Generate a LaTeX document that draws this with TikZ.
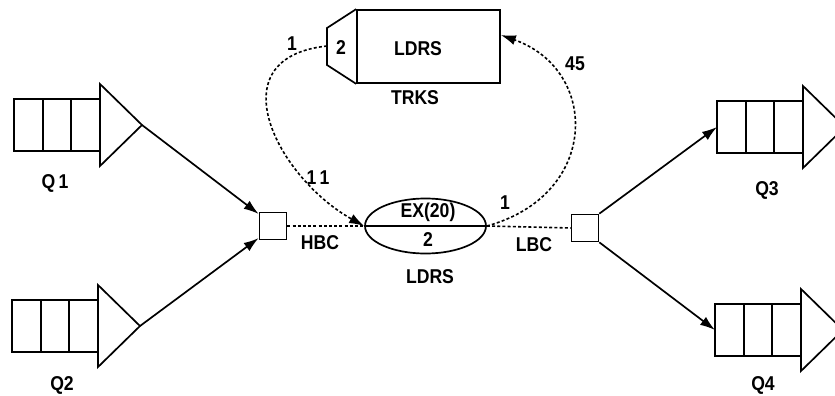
\documentclass[tikz,border=0pt]{standalone}
\usepackage{fontspec}
\setmainfont[FakeStretch=0.88]{Liberation Sans}
\usetikzlibrary{arrows.meta,shapes.geometric,calc}
\tikzset{
  solidline/.style={line width=1.7pt},
  dashline/.style={line width=1.6pt, dash pattern=on 3pt off 2.2pt},
  arr/.style={-{Latex[length=15pt,width=10pt]}},
  lbl/.style={font=\fontsize{20}{22}\selectfont\bfseries, inner sep=0pt},
  sq/.style={draw, solidline, rectangle, minimum width=27pt, minimum height=27pt, inner sep=0pt},
  queue/.pic={
    \draw[solidline] (0,-26) rectangle (86,26);
    \draw[solidline] (29,-26) -- (29,26) (57,-26) -- (57,26);
    \draw[solidline] (86,-41) -- (128,0) -- (86,41) -- cycle;
    \coordinate (-in) at (0,0);
    \coordinate (-apex) at (128,0);
  }
}
\begin{document}
\begin{tikzpicture}[x=1pt,y=-1pt]
\clip (0,0) rectangle (835,396);
\fill[white] (0,0) rectangle (835,396);

% queues
\pic (q1) at (14,125) {queue};
\pic (q2) at (12,326) {queue};
\pic (q3) at (717,127) {queue};
\pic (q4) at (715,330) {queue};
\node[lbl] (q1l) at (55,183) {Q\,1};
\node[lbl] (q2l) at (62,385) {Q2};
\node[lbl] (q3l) at (767,190) {Q3};
\node[lbl] (q4l) at (763,385) {Q4};

% branch points
\node[sq] (hbc) at (273,226) {};
\node[sq] (lbc) at (585,228) {};
\node[lbl] (hbcl) at (320,243) {HBC};
\node[lbl] (lbcl) at (534,245) {LBC};

% ellipse server
\node[draw, solidline, ellipse, minimum width=121pt, minimum height=55pt, inner sep=0pt] (ex) at (425.5,226) {};
\draw[solidline] (ex.west) -- (ex.east);
\node[lbl] (exl) at (428,212) {EX(20)};
\node[lbl] (ex2) at (428,240) {2};
\node[lbl] (exn) at (430,277) {LDRS};

% TRKS box
\node[draw, solidline, rectangle, minimum width=143pt, minimum height=73pt, inner sep=0pt] (trks) at (428.5,46.5) {};
\coordinate (tzt) at (327,28);
\coordinate (tzb) at (327,65);
\coordinate (tzl) at (327,46);
\draw[solidline] (trks.north west) -- (tzt) -- (tzb) -- (trks.south west);
\node[lbl] (trksl) at (418,49) {LDRS};
\node[lbl] (trks2) at (341,48) {2};
\node[lbl] (trksn) at (415,98) {TRKS};

% connectors
\draw[solidline, arr] (q1-apex) -- (hbc.140);
\draw[solidline, arr] (q2-apex) -- (hbc.220);
\draw[solidline, arr] (lbc.north east) -- (q3-in);
\draw[solidline, arr] (lbc.south east) -- (q4-in);
\draw[dashline] (hbc.east) -- (ex.west);
\draw[dashline] (ex.east) -- (lbc.west);
\draw[dashline, arr] (tzl) .. controls (215,58) and (278,178) .. (ex.west);
\draw[dashline, arr] (ex.east) .. controls (600,195) and (600,70) .. (trks.9);

% labels on loops
\node[lbl] (l1a) at (292,44) {1};
\node[lbl] (l11) at (318,178) {1\,1};
\node[lbl] (l1b) at (505,203) {1};
\node[lbl] (l45) at (575,64) {45};
\end{tikzpicture}
\end{document}
